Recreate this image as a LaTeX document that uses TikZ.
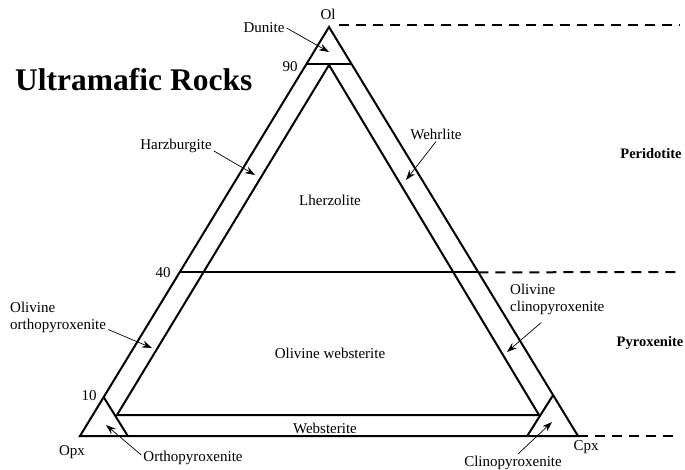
\documentclass[tikz,border=0pt]{standalone}
\usepackage{fontspec}
\setmainfont{Liberation Serif}
\usetikzlibrary{arrows.meta,calc}
\tikzset{
  rock-edge/.style={line width=2pt, line join=miter},
  rock-dash/.style={line width=2pt, dash pattern=on 10pt off 7pt},
  rock-label/.style={font=\fontsize{15}{17}\selectfont, inner sep=2pt},
  rock-group/.style={font=\fontsize{14.5}{17}\selectfont\bfseries, inner sep=2pt},
  rock-arrow/.style={-{Stealth[length=10pt,width=7pt]}, line width=0.7pt}
}

\begin{document}
\begin{tikzpicture}[x=1pt, y=-1pt]
  \useasboundingbox (0,0) rectangle (685,470);

  % Corners of the ternary
  \coordinate (ol) at (329,27);
  \coordinate (opx) at (80,436);
  \coordinate (cpx) at (578,436);

  % Outer triangle
  \draw[rock-edge] (ol) -- (opx) -- (cpx) -- cycle;

  % 90 and 40 olivine lines
  \coordinate (l90) at ($(opx)!0.91!(ol)$);
  \coordinate (r90) at ($(cpx)!0.91!(ol)$);
  \draw[rock-edge] (l90) -- (r90);
  \coordinate (l40) at ($(opx)!0.4!(ol)$);
  \coordinate (r40) at ($(cpx)!0.4!(ol)$);
  \draw[rock-edge] (l40) -- (r40);

  % Inner triangle (10 percent lines)
  \coordinate (in-top) at (329,65);
  \coordinate (in-left) at (117,415);
  \coordinate (in-right) at (539,415);
  \draw[rock-edge] (in-left) -- (in-top) -- (in-right) -- cycle;

  % Corner fields
  \coordinate (l10) at ($(opx)!0.095!(ol)$);
  \coordinate (b10) at ($(opx)!0.096!(cpx)$);
  \draw[rock-edge] (l10) -- (b10);
  \coordinate (r10) at ($(cpx)!0.1!(ol)$);
  \coordinate (c10) at ($(cpx)!0.102!(opx)$);
  \draw[rock-edge] (r10) -- (c10);

  % Dashed group limits
  \coordinate (top-start) at (339,25);
  \coordinate (top-end) at (680,25);
  \coordinate (mid-end) at (676,272);
  \coordinate (low-end) at (673,436);
  \draw[rock-dash] (top-start) -- (top-end);
  \draw[rock-dash] (r40) -- (mid-end);
  \draw[rock-dash] (cpx) -- (low-end);

  % Title and corner names
  \node[font=\fontsize{31.5}{36}\selectfont\bfseries, anchor=base west, inner sep=0pt] (title) at (15,91) {Ultramafic Rocks};
  \node[rock-label] (ol-name) at (328,14) {Ol};
  \node[rock-label] (opx-name) at (72,452) {Opx};
  \node[rock-label] (cpx-name) at (586,447) {Cpx};

  % Percent marks
  \node[rock-label] (ninety) at (290,67) {90};
  \node[rock-label] (forty) at (163,273) {40};
  \node[rock-label] (ten) at (89,396) {10};

  % Field names
  \node[rock-label] (lherz) at (330,200) {Lherzolite};
  \node[rock-label] (olweb) at (330,353) {Olivine websterite};
  \node[rock-label] (webst) at (325,428) {Websterite};

  % Group names
  \node[rock-group] (peri) at (651,154) {Peridotite};
  \node[rock-group] (pyro) at (650,343) {Pyroxenite};

  % Labels with pointers
  \node[rock-label] (dunite) at (264,28) {Dunite};
  \coordinate (dun-tip) at (329,52);
  \draw[rock-arrow] (dunite.east) -- (dun-tip);

  \node[rock-label] (harz) at (176,146) {Harzburgite};
  \coordinate (harz-tip) at (255,175);
  \draw[rock-arrow] ([yshift=-5pt]harz.east) -- (harz-tip);

  \node[rock-label] (wehr) at (436,134) {Wehrlite};
  \coordinate (wehr-tip) at (406,180);
  \draw[rock-arrow] (wehr.south) -- (wehr-tip);

  \node[rock-label, anchor=west, align=left] (olopx) at (8,317) {Olivine\\orthopyroxenite};
  \coordinate (olopx-tip) at (152,348);
  \draw[rock-arrow] ([yshift=5pt]olopx.south east) -- (olopx-tip);

  \node[rock-label, anchor=west, align=left] (olcpx) at (508,299) {Olivine\\clinopyroxenite};
  \coordinate (olcpx-tip) at (507,352);
  \draw[rock-arrow] ([xshift=-16pt,yshift=-6pt]olcpx.south) -- (olcpx-tip);

  \node[rock-label] (orthopyx) at (193,458) {Orthopyroxenite};
  \coordinate (ortho-tip) at (106,425);
  \draw[rock-arrow] ([yshift=3pt]orthopyx.west) -- (ortho-tip);

  \node[rock-label] (clinopyx) at (513,463) {Clinopyroxenite};
  \coordinate (clino-tip) at (552,422);
  \draw[rock-arrow] ([xshift=5pt]clinopyx.north) -- (clino-tip);
\end{tikzpicture}
\end{document}
